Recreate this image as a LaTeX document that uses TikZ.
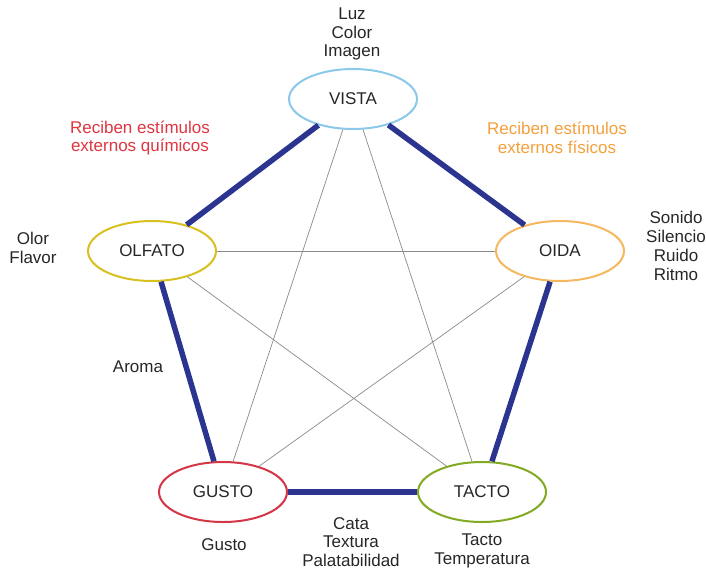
\documentclass[tikz,border=0pt]{standalone}
\usepackage{fontspec}
\setmainfont{Liberation Sans}
\usetikzlibrary{shapes.geometric}
\definecolor{cvista}{HTML}{8CC8EA}
\definecolor{colfato}{HTML}{D8C020}
\definecolor{coida}{HTML}{F5B860}
\definecolor{cgusto}{HTML}{D43645}
\definecolor{ctacto}{HTML}{82AA22}
\definecolor{cthick}{HTML}{2B3590}
\definecolor{cthin}{HTML}{8A8A8A}
\definecolor{ctext}{HTML}{262626}
\definecolor{cred}{HTML}{E0353F}
\definecolor{corange}{HTML}{F5A03C}
\begin{document}
\begin{tikzpicture}[x=1pt,y=-1pt,
  sense/.style={ellipse,draw,line width=2pt,minimum width=128pt,minimum height=60pt,inner sep=0pt,fill=white,text=ctext,font=\fontsize{17}{18.8}\selectfont},
  lbl/.style={align=center,text=ctext,font=\fontsize{17}{18.8}\selectfont,inner sep=0pt},
  thick link/.style={draw=cthick,line width=5.5pt},
  thin link/.style={draw=cthin,line width=0.7pt}]
\useasboundingbox (0,0) rectangle (706,570);
\node[sense,draw=cvista] (vista) at (353,99) {VISTA};
\node[sense,draw=colfato] (olfato) at (152,251) {OLFATO};
\node[sense,draw=coida] (oida) at (560,251) {OIDA};
\node[sense,draw=cgusto] (gusto) at (223,492) {GUSTO};
\node[sense,draw=ctacto] (tacto) at (482,492) {TACTO};
\draw[thin link] (vista) -- (gusto);
\draw[thin link] (vista) -- (tacto);
\draw[thin link] (olfato) -- (oida);
\draw[thin link] (olfato) -- (tacto);
\draw[thin link] (oida) -- (gusto);
\draw[thick link] (vista) -- (olfato);
\draw[thick link] (vista) -- (oida);
\draw[thick link] (olfato) -- (gusto);
\draw[thick link] (oida) -- (tacto);
\draw[thick link] (gusto) -- (tacto);
\node[lbl] (lvista) at (352,34) {Luz\\Color\\Imagen};
\node[lbl,text=cred] (lquim) at (140,138) {Reciben estímulos\\externos químicos};
\node[lbl,text=corange] (lfis) at (557,138) {Reciben estímulos\\externos físicos};
\node[lbl] (lolfato) at (33,248) {Olor\\Flavor};
\node[lbl] (loida) at (676,246) {Sonido\\Silencio\\Ruido\\Ritmo};
\node[lbl] (laroma) at (138,367) {Aroma};
\node[lbl] (lgusto) at (224,545) {Gusto};
\node[lbl] (lcata) at (351,542) {Cata\\Textura\\Palatabilidad};
\node[lbl] (ltacto) at (482,551) {Tacto\\Temperatura};
\end{tikzpicture}
\end{document}
